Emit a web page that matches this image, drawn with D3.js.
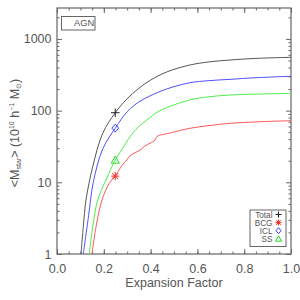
<!DOCTYPE html>
<html>
<head>
<meta charset="utf-8">
<script src="https://cdn.jsdelivr.net/npm/d3@7"></script>
<style>
  body { margin: 0; background: #fff; }
  text { font-family: "Liberation Sans", Arial, Helvetica, sans-serif; fill: #555; }
</style>
</head>
<body>
<div id="chart"></div>
<script>
// expansion factor (x) and stellar mass (y)
var aTotal = [0.1026, 0.1124, 0.1239, 0.1526, 0.1953, 0.249, 0.295, 0.35, 0.397, 0.468, 0.568, 0.65, 0.739, 0.85, 1.0];
var mTotal = [1, 2.4, 5.66, 16.5, 48.2, 93.5, 141, 205, 263, 345, 433, 478, 508, 535, 554];

var aICL = [0.1124, 0.135, 0.155, 0.1953, 0.249, 0.302, 0.35, 0.397, 0.468, 0.568, 0.65, 0.739, 0.85, 1.0];
var mICL = [1, 3.42, 10, 29.1, 57, 98, 132, 160, 200, 245, 262, 273, 288, 301];

var aSS = [0.138, 0.1526, 0.174, 0.2094, 0.249, 0.276, 0.312, 0.3376, 0.397, 0.44, 0.568, 0.65, 0.739, 0.85, 1.0];
var mSS = [1, 2.4, 5.66, 10.8, 20.5, 28.2, 43.3, 54.8, 80, 100, 141, 156, 165, 170, 174];

var aBCG = [0.1496, 0.1667, 0.1923, 0.2235, 0.249, 0.269, 0.286, 0.299, 0.312, 0.3376, 0.355, 0.376, 0.397, 0.419, 0.427, 0.483, 0.568, 0.654, 0.739, 0.868, 1.0];
var mBCG = [1, 2.4, 5.66, 9.7, 12.2, 15.6, 18.6, 20.5, 23.5, 26.2, 28.2, 32.1, 35, 38.9, 43.5, 48.7, 56.7, 62, 66.5, 70, 72.3];

// markers at a = 0.25
var markA = 0.249;
var markNames = ["Total", "BCG", "ICL", "SS"];
var markValues = [93.5, 12.2, 57, 20.5];

var xMajor = [0, 0.2, 0.4, 0.6, 0.8, 1.0];
var yMajor = [1, 10, 100, 1000];

var W = 300, H = 300;
var x = d3.scaleLinear().domain([0, 1]).range([57, 291]);
var y = d3.scaleLog().domain([1, 2700]).range([254, 8]);

var svg = d3.select("#chart").append("svg").attr("width", W).attr("height", H);

svg.append("clipPath").attr("id", "clip").append("rect")
  .attr("x", 57).attr("y", 8).attr("width", 234).attr("height", 246);

var axisCol = "#666";
function styleAxis(g){
  g.select(".domain").remove();
  g.selectAll(".tick line").attr("stroke", axisCol);
  g.selectAll("text").attr("font-size", "12.5px").attr("fill", "#555")
    .attr("font-family", "'Liberation Sans', Arial, sans-serif");
}

var xMinor = d3.range(0, 1.0001, 0.05);
var yMinor = [];
[1, 10, 100, 1000].forEach(function(dec){
  for (var k = 2; k <= 9; k++) { if (dec*k < 2700) yMinor.push(dec*k); }
});

// bottom
svg.append("g").attr("transform", "translate(0,254)")
  .call(d3.axisBottom(x).tickValues(xMinor).tickSize(-2.5).tickFormat("")).call(styleAxis);
svg.append("g").attr("transform", "translate(0,254)")
  .call(d3.axisBottom(x).tickValues(xMajor).tickSize(-5).tickPadding(10).tickFormat(d3.format(".1f"))).call(styleAxis);
// top
svg.append("g").attr("transform", "translate(0,8)")
  .call(d3.axisTop(x).tickValues(xMinor).tickSize(-2.5).tickFormat("")).call(styleAxis);
svg.append("g").attr("transform", "translate(0,8)")
  .call(d3.axisTop(x).tickValues(xMajor).tickSize(-5).tickFormat("")).call(styleAxis);
// left
svg.append("g").attr("transform", "translate(57,0)")
  .call(d3.axisLeft(y).tickValues(yMinor).tickSize(-2.5).tickFormat("")).call(styleAxis);
svg.append("g").attr("transform", "translate(57,0)")
  .call(d3.axisLeft(y).tickValues(yMajor).tickSize(-5).tickPadding(5.5).tickFormat(d3.format("d"))).call(styleAxis);
// right
svg.append("g").attr("transform", "translate(291,0)")
  .call(d3.axisRight(y).tickValues(yMinor).tickSize(-2.5).tickFormat("")).call(styleAxis);
svg.append("g").attr("transform", "translate(291,0)")
  .call(d3.axisRight(y).tickValues(yMajor).tickSize(-5).tickFormat("")).call(styleAxis);

// frame
svg.append("rect").attr("x", 57).attr("y", 8).attr("width", 234).attr("height", 246)
  .attr("fill", "none").attr("stroke", axisCol).attr("stroke-width", 1.2);

// curves
var series = [
  {name: "Total", a: aTotal, m: mTotal, color: "#555555"},
  {name: "ICL", a: aICL, m: mICL, color: "#5050ff"},
  {name: "SS", a: aSS, m: mSS, color: "#4cee4c"},
  {name: "BCG", a: aBCG, m: mBCG, color: "#ff5555"}
];
var line = d3.line()
  .x(function(d){ return x(d[0]); })
  .y(function(d){ return y(d[1]); })
  .curve(d3.curveCatmullRom.alpha(0.5));

svg.append("g").attr("clip-path", "url(#clip)")
  .selectAll("path").data(series).enter().append("path")
  .attr("d", function(s){ return line(s.a.map(function(v, i){ return [v, s.m[i]]; })); })
  .attr("fill", "none")
  .attr("stroke", function(s){ return s.color; })
  .attr("stroke-width", 1);

// symbol shapes
var symPlus = {draw: function(c, size){ var r = Math.sqrt(size)/2;
  c.moveTo(-r,0); c.lineTo(r,0); c.moveTo(0,-r); c.lineTo(0,r); }};
var symStar = {draw: function(c, size){ var r = Math.sqrt(size)/2, q = r*0.75;
  c.moveTo(-r,0); c.lineTo(r,0); c.moveTo(0,-r); c.lineTo(0,r);
  c.moveTo(-q,-q); c.lineTo(q,q); c.moveTo(-q,q); c.lineTo(q,-q); }};
var symDiamond = {draw: function(c, size){ var r = Math.sqrt(size)/2;
  c.moveTo(0,-r); c.lineTo(r*0.85,0); c.lineTo(0,r); c.lineTo(-r*0.85,0); c.closePath(); }};
var symTri = {draw: function(c, size){ var r = Math.sqrt(size)/2;
  c.moveTo(0,-r); c.lineTo(r,r*0.8); c.lineTo(-r,r*0.8); c.closePath(); }};

var markStyle = {
  Total: {type: symPlus, color: "#222"},
  BCG: {type: symStar, color: "#ff2222"},
  ICL: {type: symDiamond, color: "#3a3aff"},
  SS: {type: symTri, color: "#22dd22"}
};

svg.append("g").selectAll("path").data(markNames).enter().append("path")
  .attr("transform", function(n, i){ return "translate(" + x(markA) + "," + y(markValues[i]) + ")"; })
  .attr("d", function(n){ return d3.symbol().type(markStyle[n].type).size(n === "Total" ? 72 : 64)(); })
  .attr("fill", "none")
  .attr("stroke", function(n){ return markStyle[n].color; })
  .attr("stroke-width", 1);

// top-left legend box
svg.append("rect").attr("x", 61.5).attr("y", 16.5).attr("width", 33.5).attr("height", 13.5)
  .attr("fill", "none").attr("stroke", axisCol).attr("stroke-width", 1);
svg.append("text").attr("x", 74).attr("y", 26.3).attr("font-size", "9.3px").text("AGN");

// bottom-right legend
svg.append("rect").attr("x", 250).attr("y", 210).attr("width", 36).attr("height", 36.5)
  .attr("fill", "none").attr("stroke", axisCol).attr("stroke-width", 1);
var leg = svg.append("g").selectAll("g").data(markNames).enter().append("g")
  .attr("transform", function(n, i){ return "translate(0," + (217.5 + i*8.1) + ")"; });
leg.append("text").attr("x", 272.5).attr("text-anchor", "end").attr("font-size", "8.2px")
  .text(function(n){ return n; });
leg.append("path")
  .attr("transform", "translate(278.5,-3)")
  .attr("d", function(n){ return d3.symbol().type(markStyle[n].type).size(36)(); })
  .attr("fill", "none")
  .attr("stroke", function(n){ return markStyle[n].color; })
  .attr("stroke-width", 1);

// axis titles
svg.append("text").attr("x", 174).attr("y", 287).attr("text-anchor", "middle")
  .attr("font-size", "12.5px").text("Expansion Factor");

var yl = svg.append("text").attr("transform", "translate(19,133) rotate(-90)")
  .attr("text-anchor", "middle").attr("font-size", "12.5px");
yl.append("tspan").text("<M");
yl.append("tspan").attr("font-size", "7px").attr("dy", 2).text("star");
yl.append("tspan").attr("dy", -2).text("> (10");
yl.append("tspan").attr("font-size", "7px").attr("dy", -5).text("10");
yl.append("tspan").attr("dy", 5).text(" h");
yl.append("tspan").attr("font-size", "7px").attr("dy", -5).text("\u22121");
yl.append("tspan").attr("dy", 5).text(" M");
yl.append("tspan").attr("font-size", "7px").attr("dy", 2).text("\u2299");
yl.append("tspan").attr("dy", -2).text(")");
</script>
</body>
</html>
